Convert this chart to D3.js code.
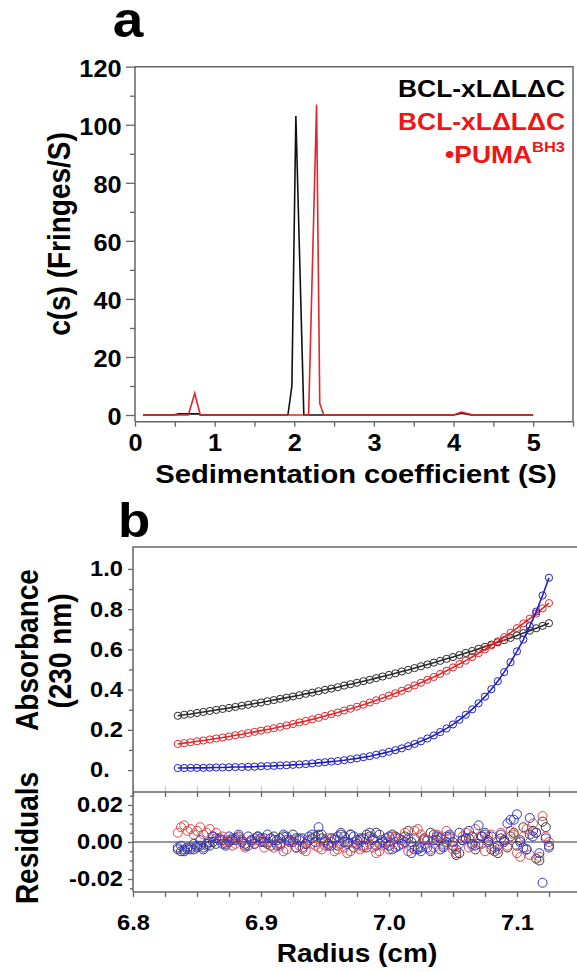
<!DOCTYPE html>
<html>
<head>
<meta charset="utf-8">
<script src="https://cdn.jsdelivr.net/npm/d3@7"></script>
<style>
body { margin: 0; background: #fff; }
svg { display: block; font-family: "Liberation Sans", Arial, sans-serif; font-weight: bold; }
</style>
</head>
<body>
<svg id="chart" width="577" height="972"></svg>
<script>
// panel a: c(s) distributions
var sBlack = [0.1, 0.48, 0.55, 0.8, 0.82, 1.92, 1.97, 2.02, 2.12, 2.36, 4.0, 4.1, 4.22, 5.0]
var cBlack = [0, 0, 0.4, 0.4, 0, 0, 10, 103, 0, 0, 0, 0.6, 0, 0]
var sRed = [0.1, 0.67, 0.75, 0.82, 2.18, 2.28, 2.32, 2.37, 4.0, 4.1, 4.25, 5.0]
var cRed = [0, 0, 7.5, 0, 0, 107, 4, 0, 0, 1, 0, 0]
var sTicks = [0, 1, 2, 3, 4, 5]
var sMinor = [0.5, 1.5, 2.5, 3.5, 4.5, 5.5]
var cTicks = [0, 20, 40, 60, 80, 100, 120]
var cMinor = [10, 30, 50, 70, 90, 110]
var legendA = ["BCL-xL\u0394L\u0394C", "BCL-xL\u0394L\u0394C"]

// panel b: absorbance and residuals vs radius
var radius = [6.835, 6.84, 6.845, 6.85, 6.855, 6.86, 6.865, 6.87, 6.875, 6.88,
    6.885, 6.89, 6.895, 6.9, 6.905, 6.91, 6.915, 6.92, 6.925, 6.93,
    6.935, 6.94, 6.945, 6.95, 6.955, 6.96, 6.965, 6.97, 6.975, 6.98,
    6.985, 6.99, 6.995, 7.0, 7.005, 7.01, 7.015, 7.02, 7.025, 7.03,
    7.035, 7.04, 7.045, 7.05, 7.055, 7.06, 7.065, 7.07, 7.075, 7.08,
    7.085, 7.09, 7.095, 7.1, 7.105, 7.11, 7.115, 7.12, 7.125]
var absBlack = [0.270, 0.275, 0.279, 0.284, 0.289, 0.294, 0.299, 0.304, 0.309, 0.314,
    0.320, 0.325, 0.331, 0.336, 0.342, 0.348, 0.354, 0.360, 0.366, 0.372,
    0.379, 0.385, 0.392, 0.399, 0.405, 0.412, 0.420, 0.427, 0.434, 0.442,
    0.449, 0.457, 0.465, 0.473, 0.481, 0.490, 0.498, 0.507, 0.516, 0.525,
    0.534, 0.543, 0.553, 0.562, 0.572, 0.582, 0.592, 0.603, 0.613, 0.624,
    0.635, 0.646, 0.657, 0.669, 0.681, 0.693, 0.705, 0.717, 0.730]
var absRed = [0.130, 0.134, 0.138, 0.143, 0.147, 0.152, 0.157, 0.162, 0.167, 0.173,
    0.178, 0.184, 0.190, 0.196, 0.202, 0.208, 0.215, 0.222, 0.229, 0.237,
    0.244, 0.252, 0.260, 0.269, 0.278, 0.286, 0.296, 0.305, 0.315, 0.325,
    0.336, 0.347, 0.358, 0.370, 0.382, 0.394, 0.407, 0.421, 0.434, 0.449,
    0.463, 0.478, 0.494, 0.510, 0.527, 0.544, 0.562, 0.581, 0.600, 0.620,
    0.640, 0.661, 0.683, 0.706, 0.729, 0.753, 0.778, 0.804, 0.830]
var absBlue = [0.010, 0.010, 0.011, 0.011, 0.011, 0.012, 0.013, 0.013, 0.014, 0.015,
    0.015, 0.016, 0.017, 0.019, 0.020, 0.021, 0.023, 0.024, 0.026, 0.028,
    0.030, 0.033, 0.036, 0.039, 0.042, 0.045, 0.049, 0.054, 0.058, 0.064,
    0.069, 0.076, 0.083, 0.091, 0.099, 0.108, 0.119, 0.130, 0.143, 0.157,
    0.172, 0.189, 0.207, 0.227, 0.250, 0.275, 0.302, 0.332, 0.365, 0.402,
    0.442, 0.487, 0.536, 0.590, 0.649, 0.715, 0.788, 0.868, 0.956]
var resBlack = [-0.004, -0.005, -0.004, -0.003, -0.004, -0.002, -0.001, 0.001, 0.000, 0.002,
    0.001, -0.002, 0.002, 0.000, -0.001, 0.003, 0.002, 0.001, 0.004, 0.001,
    -0.001, 0.002, 0.004, 0.000, 0.002, -0.002, 0.003, 0.004, 0.001, -0.002,
    0.003, 0.005, 0.000, -0.002, 0.003, 0.001, 0.006, 0.002, -0.003, 0.001,
    0.004, 0.002, 0.000, -0.002, -0.006, 0.002, 0.003, -0.001, 0.005, -0.004,
    -0.006, 0.000, 0.003, -0.002, 0.008, 0.004, -0.009, 0.011, -0.002]
var resRed = [0.005, 0.009, 0.007, 0.006, 0.004, 0.007, 0.005, 0.003, 0.001, -0.001,
    0.001, -0.002, -0.001, 0.002, 0.000, -0.003, -0.002, -0.004, 0.001, -0.002,
    -0.005, -0.001, -0.003, -0.002, 0.000, -0.004, -0.003, -0.005, -0.002, -0.003,
    -0.001, -0.006, -0.002, -0.004, 0.002, 0.001, -0.005, 0.006, 0.004, 0.001,
    -0.003, 0.003, 0.006, -0.004, -0.001, 0.005, -0.002, 0.002, -0.005, 0.004,
    -0.004, 0.001, 0.006, -0.006, 0.003, -0.007, 0.005, 0.014, 0.000]
var resBlue = [-0.003, -0.004, -0.003, -0.002, -0.003, 0.000, 0.002, -0.001, 0.003, 0.001,
    0.000, 0.003, -0.001, 0.002, 0.004, 0.001, -0.001, 0.003, 0.000, 0.002,
    -0.001, 0.004, 0.008, 0.001, -0.002, 0.003, 0.000, 0.004, -0.001, 0.002,
    0.005, -0.002, 0.001, 0.003, -0.003, -0.001, 0.002, -0.004, -0.005, -0.003,
    0.001, -0.004, 0.003, 0.000, 0.005, 0.002, -0.001, 0.009, 0.004, 0.003,
    -0.002, 0.001, 0.012, 0.015, -0.003, 0.013, 0.005, -0.022, -0.003]
// residuals also read at the half steps between the points above
var radius2 = [6.8375, 6.8425, 6.8475, 6.8525, 6.8575, 6.8625, 6.8675, 6.8725, 6.8775, 6.8825,
    6.8875, 6.8925, 6.8975, 6.9025, 6.9075, 6.9125, 6.9175, 6.9225, 6.9275, 6.9325,
    6.9375, 6.9425, 6.9475, 6.9525, 6.9575, 6.9625, 6.9675, 6.9725, 6.9775, 6.9825,
    6.9875, 6.9925, 6.9975, 7.0025, 7.0075, 7.0125, 7.0175, 7.0225, 7.0275, 7.0325,
    7.0375, 7.0425, 7.0475, 7.0525, 7.0575, 7.0625, 7.0675, 7.0725, 7.0775, 7.0825,
    7.0875, 7.0925, 7.0975, 7.1025, 7.1075, 7.1125, 7.1175, 7.1225]
var resBlack2 = [-0.005, -0.003, -0.004, -0.002, -0.001, 0.000, 0.002, -0.001, 0.001, 0.003,
    -0.001, 0.001, 0.003, 0.002, -0.002, 0.001, 0.003, 0.000, 0.002, -0.003,
    0.001, 0.003, 0.002, -0.001, 0.001, 0.004, 0.000, -0.003, 0.002, 0.004,
    0.001, -0.001, 0.002, 0.004, -0.002, 0.003, 0.000, -0.004, 0.002, 0.005,
    0.001, -0.003, 0.003, -0.007, 0.001, 0.002, -0.004, 0.003, 0.001, -0.005,
    0.002, -0.003, 0.005, 0.001, -0.004, 0.006, -0.010, 0.008]
var resRed2 = [0.008, 0.006, 0.004, 0.008, 0.005, 0.003, 0.002, 0.000, -0.002, 0.002,
    -0.003, 0.000, 0.001, -0.003, 0.002, -0.001, -0.005, 0.000, -0.003, -0.004,
    0.001, -0.002, -0.004, 0.002, -0.005, -0.001, -0.006, 0.000, -0.004, 0.002,
    -0.003, -0.005, 0.000, 0.003, -0.002, 0.005, -0.003, 0.007, 0.002, -0.004,
    0.004, -0.001, 0.002, -0.006, 0.003, -0.003, 0.007, -0.001, 0.003, -0.005,
    0.005, -0.002, 0.004, -0.008, 0.007, 0.010, -0.008, 0.003]
var resBlue2 = [-0.002, -0.004, -0.001, 0.001, -0.002, 0.003, 0.001, -0.002, 0.002, 0.004,
    -0.002, 0.001, 0.003, 0.000, 0.002, -0.002, 0.004, 0.001, -0.003, 0.002,
    0.003, 0.000, 0.004, -0.002, 0.002, 0.005, -0.001, 0.003, 0.001, -0.003,
    0.002, 0.004, -0.001, -0.004, 0.002, 0.000, -0.006, -0.003, 0.001, -0.005,
    0.003, -0.002, 0.004, -0.004, 0.001, 0.006, -0.002, 0.003, 0.000, -0.003,
    0.004, 0.010, 0.012, 0.000, -0.004, 0.003, -0.006, 0.002]
var rTicks = [6.8, 6.9, 7.0, 7.1]
var rMinor = [6.825, 6.85, 6.875, 6.925, 6.95, 6.975, 7.025, 7.05, 7.075, 7.125]
var absTicks = [0, 0.2, 0.4, 0.6, 0.8, 1.0]
var absTickLabels = ["0.", "0.2", "0.4", "0.6", "0.8", "1.0"]
var absMinor = [0.1, 0.3, 0.5, 0.7, 0.9]
var resTicks = [-0.02, 0, 0.02]
var resTickLabels = ["-0.02", "0.00", "0.02"]
var resMinor = [-0.025, -0.015, -0.01, -0.005, 0.005, 0.01, 0.015, 0.025]

var stretch = 1.1
var frameColor = "#666"
var svg = d3.select("#chart")

function styleAxis(g, fontSize, color) {
    g.selectAll(".domain").remove()
    g.selectAll("line").attr("stroke", color || frameColor).attr("stroke-width", 1.3)
    g.selectAll("text")
        .attr("fill", "#000")
        .style("font-size", fontSize + "px")
        .style("font-weight", "bold")
        .style("font-family", "'Liberation Sans', Arial, sans-serif")
}

function stretchLeftLabels(g, offset) {
    g.selectAll("text").attr("x", -offset / stretch).attr("transform", "scale(" + stretch + ",1)")
}

// ---------- panel a ----------
var xA = d3.scaleLinear().domain([0, 5.5]).range([135, 573])
var yA = d3.scaleLinear().domain([-2.3, 120]).range([421.7, 66.7])

var gA = svg.append("g")

var ayMajor = gA.append("g").attr("transform", "translate(" + xA(0) + ",0)")
    .call(d3.axisLeft(yA).tickValues(cTicks).tickSize(9).tickSizeOuter(0).tickFormat(d3.format("d")))
styleAxis(ayMajor, 23)
stretchLeftLabels(ayMajor, 13.5)
ayMajor.selectAll("text").attr("dy", "0.42em")
var ayMinor = gA.append("g").attr("transform", "translate(" + xA(0) + ",0)")
    .call(d3.axisLeft(yA).tickValues(cMinor).tickSize(5).tickFormat(""))
styleAxis(ayMinor, 23)

var axMajor = gA.append("g").attr("transform", "translate(0," + yA.range()[0] + ")")
    .call(d3.axisBottom(xA).tickValues(sTicks).tickSize(5).tickPadding(8).tickFormat(d3.format("d")))
styleAxis(axMajor, 23)
axMajor.selectAll("text").attr("transform", "scale(" + stretch + ",1)")
var axMinor = gA.append("g").attr("transform", "translate(0," + yA.range()[0] + ")")
    .call(d3.axisBottom(xA).tickValues(sMinor).tickSize(5).tickFormat(""))
styleAxis(axMinor, 23)

// frame
gA.append("path")
    .attr("d", "M" + xA(0) + "," + yA.range()[0] + "V" + yA.range()[1] + "H" + xA.range()[1] + "V" + yA.range()[0] + "H" + xA(0))
    .attr("fill", "none").attr("stroke", frameColor).attr("stroke-width", 1.5)

var lineA = d3.line()
    .x(function(d) { return xA(d[0]) })
    .y(function(d) { return yA(d[1]) })

gA.append("path")
    .datum(d3.zip(sBlack, cBlack))
    .attr("d", lineA)
    .attr("fill", "none").attr("stroke", "#111").attr("stroke-width", 1.6)
gA.append("path")
    .datum(d3.zip(sRed, cRed))
    .attr("d", lineA)
    .attr("fill", "none").attr("stroke", "#e3262a").attr("stroke-width", 1.6)

// legend
var legend = gA.append("g").attr("font-size", "24px").attr("text-anchor", "end")
legend.append("text")
    .attr("transform", "translate(565,97) scale(" + stretch + ",1)")
    .attr("fill", "#000").text(legendA[0])
legend.append("text")
    .attr("transform", "translate(565,130) scale(" + stretch + ",1)")
    .attr("fill", "#f01414").text(legendA[1])
var puma = legend.append("text")
    .attr("transform", "translate(565,163) scale(" + stretch + ",1)")
    .attr("fill", "#f01414")
puma.append("tspan").text("\u2022PUMA")
puma.append("tspan").attr("dy", -11).attr("font-size", "15px").text("BH3")

gA.append("text")
    .attr("transform", "translate(70,234) scale(" + stretch + ",1) rotate(-90)")
    .attr("text-anchor", "middle").attr("font-size", "28px")
    .text("c(s) (Fringes/S)")
gA.append("text")
    .attr("transform", "translate(356,483) scale(" + stretch + ",1)")
    .attr("text-anchor", "middle").attr("font-size", "26.5px")
    .text("Sedimentation coefficient (S)")
gA.append("text")
    .attr("transform", "translate(128,37) scale(" + stretch + ",1)")
    .attr("text-anchor", "middle").attr("font-size", "50px")
    .text("a")

// ---------- panel b ----------
var xB = d3.scaleLinear().domain([6.8, 7.1469]).range([133, 577])
var yAbs = d3.scaleLinear().domain([-0.109, 1.109]).range([792, 547])
var yRes = d3.scaleLinear().domain([-0.027, 0.027]).range([892, 792])

var gB = svg.append("g")

// absorbance labels sit left-aligned, so "0." lines up with "0.2"
var absAxis = gB.append("g").attr("transform", "translate(" + xB(6.8) + ",0)")
    .call(d3.axisLeft(yAbs).tickValues(absTicks).tickSize(5)
        .tickFormat(function(d) { return absTickLabels[absTicks.indexOf(d)] }))
styleAxis(absAxis, 21.5)
stretchLeftLabels(absAxis, 43)
absAxis.selectAll("text").attr("text-anchor", "start")
var absAxisMinor = gB.append("g").attr("transform", "translate(" + xB(6.8) + ",0)")
    .call(d3.axisLeft(yAbs).tickValues(absMinor).tickSize(4).tickFormat(""))
styleAxis(absAxisMinor, 21)

var resAxis = gB.append("g").attr("transform", "translate(" + xB(6.8) + ",0)")
    .call(d3.axisLeft(yRes).tickValues(resTicks).tickSize(5)
        .tickFormat(function(d) { return resTickLabels[resTicks.indexOf(d)] }))
styleAxis(resAxis, 21.5)
stretchLeftLabels(resAxis, 10)
var resAxisMinor = gB.append("g").attr("transform", "translate(" + xB(6.8) + ",0)")
    .call(d3.axisLeft(yRes).tickValues(resMinor).tickSize(3).tickFormat(""))
styleAxis(resAxisMinor, 21)

// faint ticks of absorbance panel bottom
var absBottom = gB.append("g").attr("transform", "translate(0,792)")
    .call(d3.axisBottom(xB).tickValues(rTicks.concat(rMinor)).tickSize(-6).tickFormat(""))
styleAxis(absBottom, 21, "#c8c8c8")
// residual panel top ticks
var resTop = gB.append("g").attr("transform", "translate(0,792)")
    .call(d3.axisTop(xB).tickValues(rTicks.concat(rMinor)).tickSize(-5).tickFormat(""))
styleAxis(resTop, 21)

var rAxis = gB.append("g").attr("transform", "translate(0,892)")
    .call(d3.axisBottom(xB).tickValues(rTicks).tickSize(5).tickPadding(18).tickFormat(d3.format(".1f")))
styleAxis(rAxis, 21.5)
rAxis.selectAll("text").attr("transform", "scale(" + stretch + ",1)")
var rAxisMinor = gB.append("g").attr("transform", "translate(0,892)")
    .call(d3.axisBottom(xB).tickValues(rMinor).tickSize(5).tickFormat(""))
styleAxis(rAxisMinor, 21)

// frames and zero line
gB.append("path")
    .attr("d", "M" + xB(6.8) + ",892V547H577")
    .attr("fill", "none").attr("stroke", frameColor).attr("stroke-width", 1.5)
gB.append("line")
    .attr("x1", xB(6.8)).attr("x2", 577).attr("y1", 792).attr("y2", 792)
    .attr("stroke", frameColor).attr("stroke-width", 1.5)
gB.append("line")
    .attr("x1", xB(6.8)).attr("x2", 577).attr("y1", 892).attr("y2", 892)
    .attr("stroke", frameColor).attr("stroke-width", 1.5)
gB.append("line")
    .attr("x1", xB(6.8)).attr("x2", 577).attr("y1", yRes(0)).attr("y2", yRes(0))
    .attr("stroke", "#333").attr("stroke-width", 1.2)

var series = [
    { abs: absBlack, res: resBlack, res2: resBlack2, stroke: "#2a2a2a", resStroke: "#3a3a3a" },
    { abs: absRed, res: resRed, res2: resRed2, stroke: "#e3262a", resStroke: "#e04a4a" },
    { abs: absBlue, res: resBlue, res2: resBlue2, stroke: "#2020c8", resStroke: "#3535d5" }
]

var lineB = d3.line()
    .x(function(d) { return xB(d[0]) })
    .y(function(d) { return yAbs(d[1]) })

series.forEach(function(s) {
    var pts = d3.zip(radius, s.abs)
    gB.append("g").selectAll("circle")
        .data(pts).enter().append("circle")
        .attr("cx", function(d) { return xB(d[0]) })
        .attr("cy", function(d) { return yAbs(d[1]) })
        .attr("r", 3.6)
        .attr("fill", "none")
        .attr("stroke", s.stroke)
        .attr("stroke-width", 1)
    gB.append("path")
        .datum(pts)
        .attr("d", lineB)
        .attr("fill", "none")
        .attr("stroke", s.stroke)
        .attr("stroke-width", 1.6)
})

series.forEach(function(s) {
    var pts = d3.zip(radius, s.res).concat(d3.zip(radius2, s.res2))
    gB.append("g").selectAll("circle")
        .data(pts).enter().append("circle")
        .attr("cx", function(d) { return xB(d[0]) })
        .attr("cy", function(d) { return yRes(d[1]) })
        .attr("r", 4.5)
        .attr("fill", "none")
        .attr("stroke", s.resStroke)
        .attr("stroke-width", 1)
})

// labels
gB.append("text")
    .attr("transform", "translate(134,537) scale(" + stretch + ",1)")
    .attr("text-anchor", "middle").attr("font-size", "48px")
    .text("b")
gB.append("text")
    .attr("transform", "translate(38,650) scale(" + stretch + ",1) rotate(-90)")
    .attr("text-anchor", "middle").attr("font-size", "28px")
    .text("Absorbance")
gB.append("text")
    .attr("transform", "translate(71,651) scale(" + stretch + ",1) rotate(-90)")
    .attr("text-anchor", "middle").attr("font-size", "28px")
    .text("(230 nm)")
gB.append("text")
    .attr("transform", "translate(38,838) scale(" + stretch + ",1) rotate(-90)")
    .attr("text-anchor", "middle").attr("font-size", "28px")
    .text("Residuals")
gB.append("text")
    .attr("transform", "translate(357,962) scale(" + stretch + ",1)")
    .attr("text-anchor", "middle").attr("font-size", "25.5px")
    .text("Radius (cm)")
</script>
</body>
</html>
